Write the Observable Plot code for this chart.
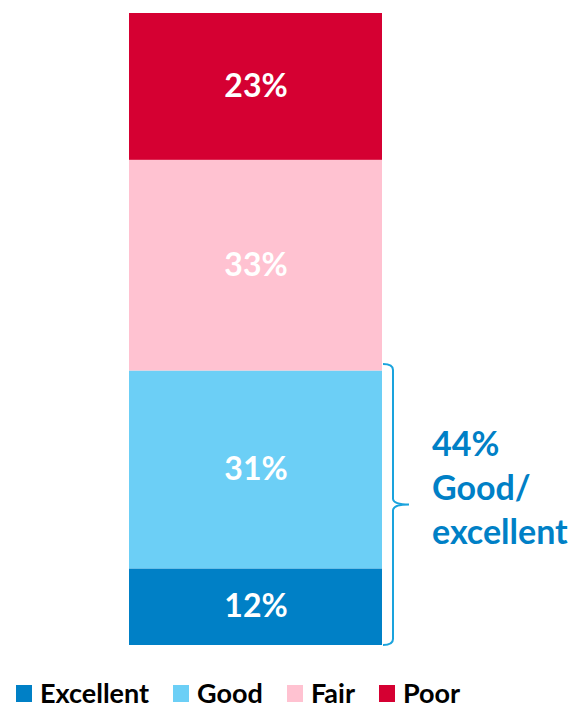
<!DOCTYPE html>
<html><head><meta charset="utf-8">
<script src="https://cdn.jsdelivr.net/npm/d3@7"></script>
<script src="https://cdn.jsdelivr.net/npm/@observablehq/plot@0.6"></script>
<style>
body{margin:0;background:#fff;font-family:Lato,"Open Sans",sans-serif}
#wrap{position:relative;width:576px;height:711px;overflow:hidden}
#legend{position:absolute;left:16px;top:677px;display:flex;align-items:center;gap:24px;font-weight:700;font-size:27px;line-height:32px;color:#000;white-space:nowrap}
#legend .item{display:flex;align-items:center;gap:8px}
#legend .sw{width:16px;height:17px;display:block}
#legend .lb{display:block}
</style></head><body><div id="wrap"><div id="chart"></div><div id="legend"></div></div>
<script>
const categories = ["Excellent","Good","Fair","Poor"];
const values = [12,31,33,23];
const colors = ["#0080C6","#6CCFF6","#FFC2D1","#D50032"];
const barName = "Rating";
const bracketSum = 44;
const annotationText = "44%\nGood/\nexcellent";

const data = categories.map((c,i)=>({bar:barName, category:c, value:values[i], label:values[i]+"%"}));

const bracket = (a, b, c, d) => {
  const s = (b && typeof b.y === "function") ? b : a;
  const dims = (b && typeof b.y === "function") ? d : b;
  const yTop = s.y(bracketSum), yBot = s.y(0), mid = (yTop+yBot)/2;
  const x0 = dims.width - dims.marginRight + 1, xv = x0 + 10, xt = x0 + 26;
  const p = `M${x0},${yTop} Q${xv},${yTop} ${xv},${yTop+6} V${mid-6} Q${xv},${mid} ${xt},${mid} Q${xv},${mid} ${xv},${mid+6} V${yBot-6} Q${xv},${yBot} ${x0},${yBot}`;
  return d3.create("svg:path").attr("d", p).attr("fill","none").attr("stroke","#1AA3DD").attr("stroke-width",2).node();
};

const chart = Plot.plot({
  width: 576, height: 672,
  marginTop: 13, marginBottom: 27, marginLeft: 129, marginRight: 194,
  style: {fontFamily: "Lato, 'Open Sans', sans-serif", background: "#fff"},
  x: {type: "band", domain: [barName], padding: 0, axis: null},
  y: {domain: [0, d3.sum(values)], axis: null},
  color: {domain: categories, range: colors},
  marks: [
    Plot.barY(data, Plot.stackY({x: "bar", y: "value", fill: "category", order: categories})),
    Plot.text(data, Plot.stackY({x: "bar", y: "value", z: "category", text: "label", order: categories, fill: "#fff", fontSize: 32, fontWeight: 700})),
    bracket,
    Plot.text([{bar: barName, y: bracketSum/2}], {x: "bar", y: "y", text: () => annotationText, textAnchor: "start", dx: 176, dy: -19, lineHeight: 1.3, fill: "#0080C6", fontSize: 34, fontWeight: 700})
  ]
});
document.getElementById("chart").append(chart);

const legend = document.getElementById("legend");
categories.forEach((c,i)=>{
  const it = document.createElement("div"); it.className="item";
  const sw = document.createElement("span"); sw.className="sw"; sw.style.background = colors[i];
  const t = document.createElement("span"); t.className="lb"; t.textContent = c;
  it.append(sw,t); legend.append(it);
});
</script></body></html>
